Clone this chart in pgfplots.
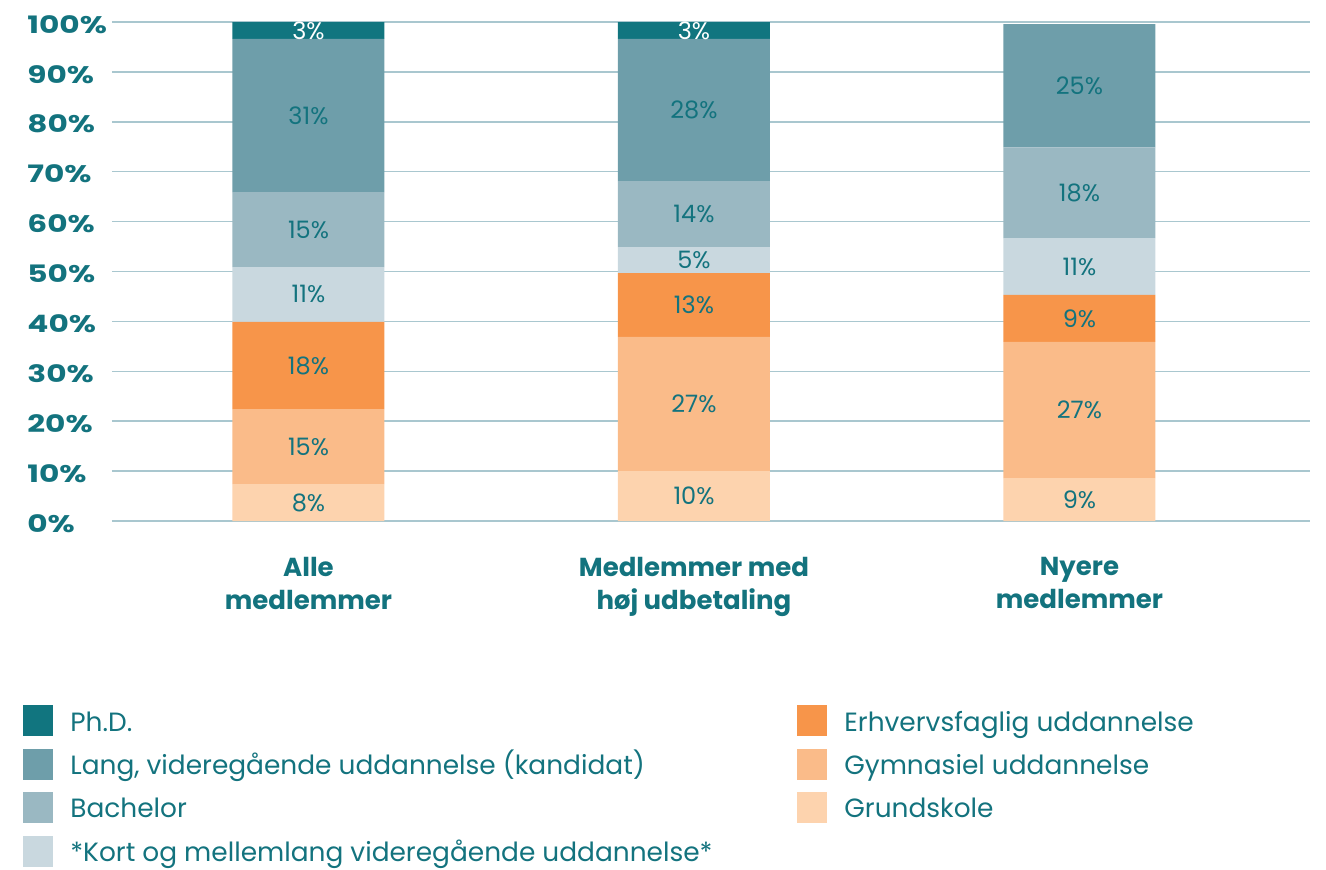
\documentclass[border=0pt]{standalone}
\usepackage{fontspec}
\setmainfont{Poppins}
\usepackage{pgfplots}
\pgfplotsset{compat=1.18}

\definecolor{txt}{HTML}{13737E}
\definecolor{gridc}{HTML}{A9C7CF}
\definecolor{phd}{HTML}{11757F}
\definecolor{lang}{HTML}{6E9EAA}
\definecolor{bach}{HTML}{9AB8C2}
\definecolor{kort}{HTML}{C9D8DF}
\definecolor{erh}{HTML}{F7954A}
\definecolor{gym}{HTML}{FABB89}
\definecolor{grund}{HTML}{FDD3AE}

% segment heights (h), printed labels (lbl)
\newcommand\yt[1]{\scalebox{1.3}[1]{#1\%}}
\newcommand\lw[1]{\makebox[363.5pt][l]{#1}}

\begin{document}
\begin{tikzpicture}
\begin{axis}[
  scale only axis,
  width=599pt, height=249.5pt,
  ybar stacked, bar width=76pt,
  xmin=-0.5097, xmax=2.598,
  ymin=0, ymax=100,
  clip=false,
  axis line style={draw=none},
  major tick length=0pt,
  ymajorgrids,
  grid style={color=gridc, line width=0.75pt},
  ytick={0,10,...,100},
  yticklabels={\yt{0},\yt{10},\yt{20},\yt{30},\yt{40},\yt{50},\yt{60},\yt{70},\yt{80},\yt{90},\yt{100}},
  yticklabel style={anchor=west, inner sep=0pt, xshift=-42.5pt, yshift=-1.2pt,
    font=\fontsize{12}{14}\selectfont\bfseries, text=txt},
  xtick={0,1,2},
  xticklabels={Alle\\medlemmer, Medlemmer med\\høj udbetaling, Nyere\\medlemmer},
  xticklabel style={align=center, anchor=north, inner sep=0pt, yshift=-18pt,
    font=\fontsize{13}{16.5}\selectfont\bfseries, text=txt},
  /pgf/number format/assume math mode=true,
  point meta=explicit,
  nodes near coords={\pgfmathprintnumber[fixed,precision=0]{\pgfplotspointmeta}\%},
  every node near coord/.append style={anchor=center, inner sep=0pt,
    font=\fontsize{12}{14}\selectfont, text=txt},
  legend columns=2,
  legend style={at={(-0.0743,-0.3687)}, anchor=north west, draw=none, fill=none,
    inner sep=0pt, column sep=0pt, row sep=6.2pt,
    nodes={inner sep=0pt, text height=8.8pt, text depth=0pt},
    font=\fontsize{13.2}{15}\selectfont, text=txt},
  legend cell align=left,
  legend image code/.code={
    \fill[#1] (0pt,-7pt) rectangle (15pt,8.5pt);
    \path (23.5pt,0pt);
  },
]
\addlegendimage{fill=phd, draw=none}
\addlegendentry{\lw{Ph.D.}}
\addlegendimage{fill=erh, draw=none}
\addlegendentry{Erhvervsfaglig uddannelse}
\addlegendimage{fill=lang, draw=none}
\addlegendentry{\lw{Lang, videregående uddannelse (kandidat)}}
\addlegendimage{fill=gym, draw=none}
\addlegendentry{Gymnasiel uddannelse}
\addlegendimage{fill=bach, draw=none}
\addlegendentry{\lw{Bachelor}}
\addlegendimage{fill=grund, draw=none}
\addlegendentry{Grundskole}
\addlegendimage{fill=kort, draw=none}
\addlegendentry{\lw{*Kort og mellemlang videregående uddannelse*}}

\addplot[fill=grund, draw=none] table[x=x, y=h, meta=lbl] {
x h lbl
0 7.4 8
1 10.0 10
2 8.6 9
};
\addplot[fill=gym, draw=none] table[x=x, y=h, meta=lbl] {
x h lbl
0 15.0 15
1 26.9 27
2 27.3 27
};
\addplot[fill=erh, draw=none] table[x=x, y=h, meta=lbl] {
x h lbl
0 17.5 18
1 12.8 13
2 9.4 9
};
\addplot[fill=kort, draw=none] table[x=x, y=h, meta=lbl] {
x h lbl
0 11.0 11
1 5.2 5
2 11.4 11
};
\addplot[fill=bach, draw=none] table[x=x, y=h, meta=lbl] {
x h lbl
0 15.0 15
1 13.2 14
2 18.2 18
};
\addplot[fill=lang, draw=none] table[x=x, y=h, meta=lbl] {
x h lbl
0 30.7 31
1 28.5 28
2 24.7 25
};
\addplot[fill=phd, draw=none, every node near coord/.append style={text=white}] table[x=x, y=h, meta=lbl] {
x h lbl
0 3.4 3
1 3.4 3
};
\end{axis}
\path[use as bounding box] ([xshift=-56pt,yshift=-174pt]current axis.south west)
  rectangle ([xshift=607pt,yshift=260.5pt]current axis.south west);
\end{tikzpicture}
\end{document}
